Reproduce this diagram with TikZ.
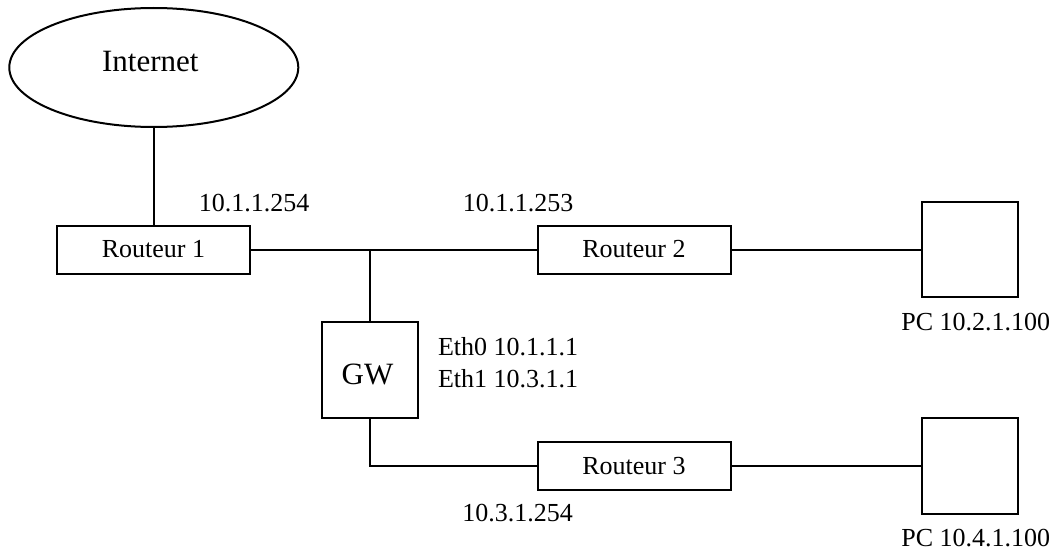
\documentclass[tikz,border=0pt]{standalone}
\usepackage{fontspec}
\setmainfont{Liberation Serif}
\usetikzlibrary{shapes.geometric}
\begin{document}
\begin{tikzpicture}[x=1pt, y=-1pt, line width=2pt,
  box/.style={draw, rectangle, inner sep=0pt, anchor=center},
  router/.style={box, minimum width=193pt, minimum height=48pt,
                 font=\fontsize{26}{30}\selectfont},
  host/.style={box, minimum width=96pt, minimum height=95pt},
  lbl/.style={font=\fontsize{26}{30}\selectfont, inner sep=0pt, anchor=base},
  biglbl/.style={font=\fontsize{31}{36}\selectfont, inner sep=0pt, anchor=base}]

  \useasboundingbox (0,0) rectangle (1053,551);

  % cloud
  \node[draw, ellipse, minimum width=289pt, minimum height=119pt, inner sep=0pt]
    (inet) at (153.8,67.5) {};
  \node[biglbl] (inettxt) at (150.3,72) {Internet};

  % routers
  \node[router] (r1) at (153.5,249.5) {Routeur 1};
  \node[router] (r2) at (634,249.5) {Routeur 2};
  \node[router] (r3) at (634,465.7) {Routeur 3};

  % gateway
  \node[host, minimum height=96pt] (gw) at (370,370) {};
  \node[biglbl] (gwtxt) at (367.5,384.7) {GW};

  % hosts
  \node[host] (pc1) at (969.7,249.5) {};
  \node[host, minimum height=96pt] (pc2) at (969.7,465.7) {};

  % addresses
  \node[lbl] (a1) at (254,211) {10.1.1.254};
  \node[lbl] (a2) at (518,211) {10.1.1.253};
  \node[lbl, anchor=base west] (eth0) at (437,355) {Eth0 10.1.1.1};
  \node[lbl, anchor=base west] (eth1) at (437,387) {Eth1 10.3.1.1};
  \node[lbl] (a3) at (517.7,521.7) {10.3.1.254};
  \node[lbl] (p1) at (975.7,330.7) {PC 10.2.1.100};
  \node[lbl] (p2) at (975.7,546) {PC 10.4.1.100};

  % links
  \coordinate (j) at (370,249.5);
  \draw (inet.south) -- (inet.south |- r1.north);
  \draw (r1.east) -- (r2.west);
  \draw (j) -- (gw.north);
  \draw (r2.east) -- (pc1.west);
  \draw (gw.south) |- (r3.west);
  \draw (r3.east) -- (pc2.west);
\end{tikzpicture}
\end{document}
